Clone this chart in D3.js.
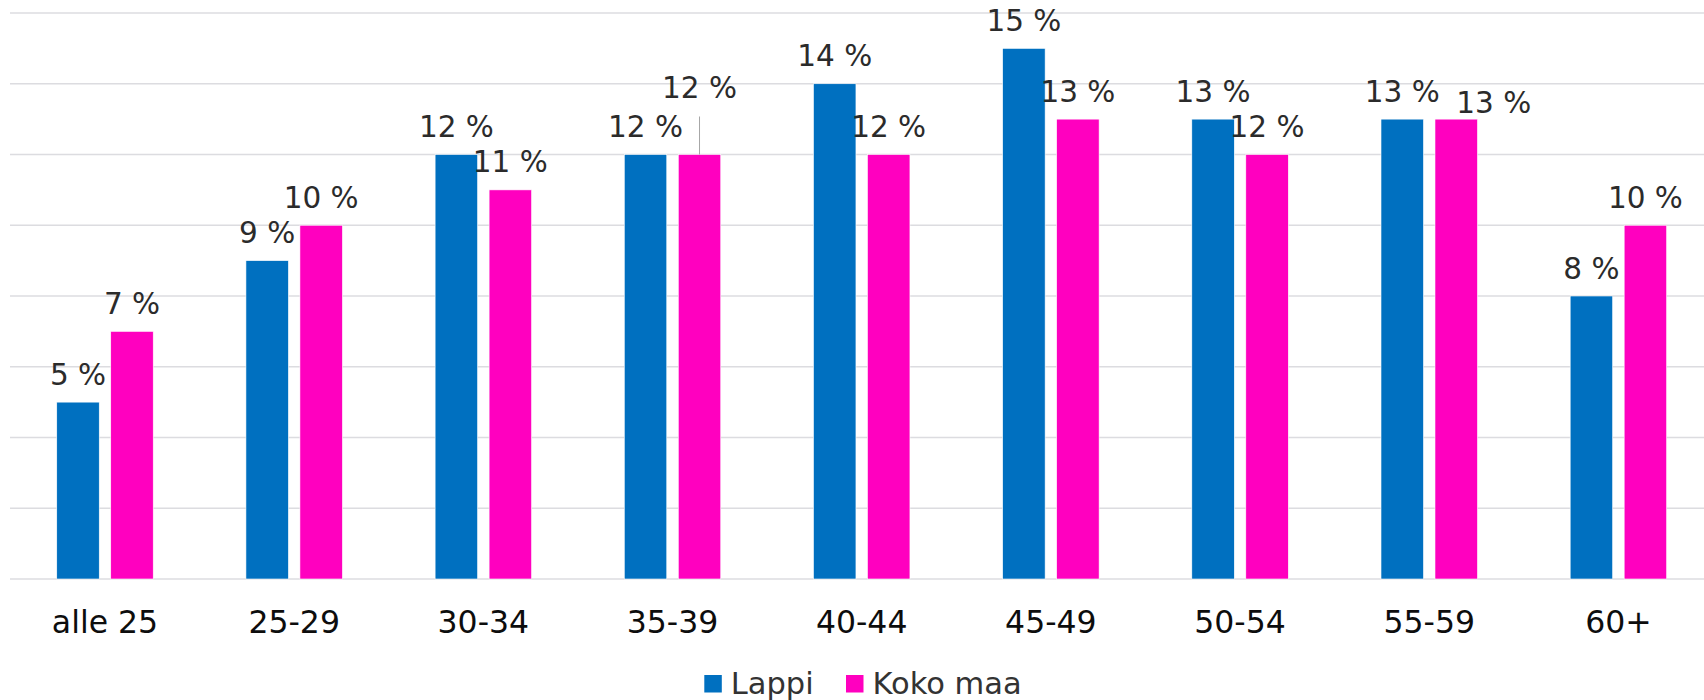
<!DOCTYPE html>
<html>
<head>
<meta charset="utf-8">
<script src="https://cdn.jsdelivr.net/npm/d3@7"></script>
<style>
  html, body { margin: 0; padding: 0; background: #fff; }
  svg { display: block; font-family: "DejaVu Sans", Verdana, sans-serif; }
</style>
</head>
<body>
<svg id="chart" width="1704" height="700"></svg>
<script>
const categories = ["alle 25", "25-29", "30-34", "35-39", "40-44", "45-49", "50-54", "55-59", "60+"];
const seriesNames = ["Lappi", "Koko maa"];
const lappi = [5, 9, 12, 12, 14, 15, 13, 13, 8];
const kokoMaa = [7, 10, 11, 12, 12, 13, 12, 13, 10];
const yTicks = [0, 2, 4, 6, 8, 10, 12, 14, 16];
const colors = ["#0070c0", "#ff00bf"];

const seriesValues = [lappi, kokoMaa];
const svg = d3.select("#chart");

const x0 = d3.scaleBand().domain(categories).range([10.4, 1713]).paddingInner(0.49).paddingOuter(0.245);
const x1 = d3.scaleBand().domain(seriesNames).range([0, x0.bandwidth()]).paddingInner(0.213);
const y = d3.scaleLinear().domain([0, 16]).range([579, 13]);

// gridlines
svg.append("g").selectAll("line").data(yTicks).join("line")
  .attr("x1", 10).attr("x2", 1704)
  .attr("y1", d => y(d)).attr("y2", d => y(d))
  .attr("stroke", "#dcdce0").attr("stroke-width", 1.5);

// bars
const rows = categories.map((c, i) => ({ cat: c, vals: seriesNames.map((s, j) => ({ s, j, v: seriesValues[j][i], cat: c })) }));
const groups = svg.append("g").selectAll("g").data(rows).join("g")
  .attr("transform", d => `translate(${x0(d.cat)},0)`);
groups.selectAll("rect").data(d => d.vals).join("rect")
  .attr("x", d => x1(d.s)).attr("width", x1.bandwidth())
  .attr("y", d => y(d.v)).attr("height", d => y(0) - y(d.v))
  .attr("fill", d => colors[d.j])
  .attr("stroke", "#ffffff").attr("stroke-width", 0.6);

// data labels (Excel-style adjustments for overlaps)
const labelAdjust = { "35-39|Koko maa": { dx: 0, dy: -39.5, leader: true }, "55-59|Koko maa": { dx: 37.5, dy: 11 } };
groups.each(function(row) {
  const g = d3.select(this);
  row.vals.forEach(d => {
    const cx = x1(d.s) + x1.bandwidth() / 2;
    const adj = labelAdjust[d.cat + "|" + d.s] || { dx: 0, dy: 0 };
    const by = y(d.v) - 17.5 + adj.dy;
    if (adj.leader) {
      g.append("line").attr("x1", cx).attr("x2", cx)
        .attr("y1", by + 19).attr("y2", y(d.v))
        .attr("stroke", "#a6a6a6").attr("stroke-width", 1);
    }
    g.append("text").attr("x", cx + adj.dx).attr("y", by)
      .attr("text-anchor", "middle").attr("font-size", 29.5).attr("fill", "#2b2b2b")
      .text(d.v + " %");
  });
});

// x axis labels
svg.append("g").selectAll("text").data(categories).join("text")
  .attr("x", d => x0(d) + x0.bandwidth() / 2).attr("y", 633)
  .attr("text-anchor", "middle").attr("font-size", 31.5).attr("fill", "#0d0d0d")
  .text(d => d);

// legend
const legend = svg.append("g");
const legendX = [704.3, 846];
seriesNames.forEach((s, j) => {
  legend.append("rect").attr("x", legendX[j]).attr("y", 675).attr("width", 17.5).attr("height", 17.5).attr("fill", colors[j]);
  legend.append("text").attr("x", legendX[j] + 26.5).attr("y", 693.5).attr("font-size", 30.5).attr("fill", "#333")
    .text(s);
});
</script>
</body>
</html>
